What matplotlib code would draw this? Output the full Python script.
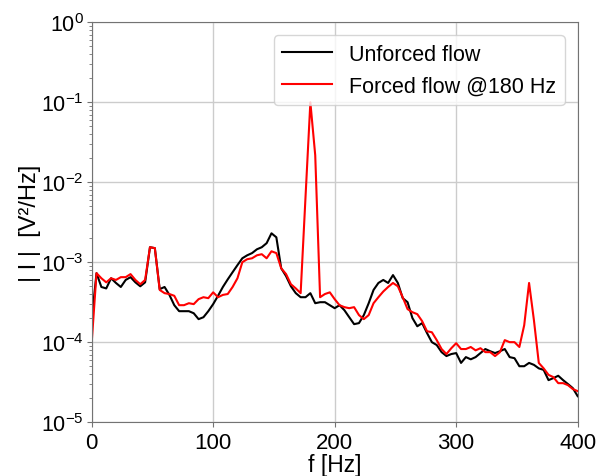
import numpy as np
import matplotlib
matplotlib.use("Agg")
import matplotlib.pyplot as plt

plt.rcParams['font.family'] = ['Liberation Sans', 'DejaVu Sans']
plt.rcParams['mathtext.fontset'] = 'custom'
plt.rcParams['mathtext.rm'] = 'Liberation Sans'
plt.rcParams['mathtext.it'] = 'Liberation Sans:italic'
plt.rcParams['mathtext.bf'] = 'Liberation Sans:bold'

# frequency bins (4 Hz spacing)
freq = np.arange(0, 404, 4)

# PSD, unforced flow
unforced = [
    1.88e-4, 7.3e-4, 4.9e-4, 4.7e-4, 6.3e-4, 5.5e-4, 4.9e-4, 6.0e-4, 6.5e-4, 5.6e-4,
    5.0e-4, 5.6e-4, 1.54e-3, 1.50e-3, 4.6e-4, 4.9e-4, 3.9e-4, 2.9e-4, 2.44e-4, 2.44e-4,
    2.44e-4, 2.3e-4, 1.94e-4, 2.05e-4, 2.44e-4, 2.99e-4, 3.8e-4, 4.9e-4, 6.1e-4, 7.5e-4,
    9.2e-4, 1.12e-3, 1.22e-3, 1.30e-3, 1.45e-3, 1.54e-3, 1.73e-3, 2.30e-3, 2.05e-3, 8.4e-4,
    6.7e-4, 5.0e-4, 4.1e-4, 3.65e-4, 3.65e-4, 4.1e-4, 3.07e-4, 3.16e-4, 3.16e-4, 2.9e-4,
    2.66e-4, 2.9e-4, 2.51e-4, 2.05e-4, 1.68e-4, 1.73e-4, 2.18e-4, 3.07e-4, 4.5e-4, 5.5e-4,
    6.0e-4, 5.5e-4, 6.9e-4, 5.5e-4, 3.55e-4, 3.16e-4, 2.0e-4, 1.58e-4, 1.73e-4, 1.30e-4,
    1.0e-4, 9.2e-5, 7.5e-5, 6.7e-5, 7.1e-5, 7.3e-5, 5.5e-5, 6.5e-5, 6.1e-5, 6.5e-5,
    7.3e-5, 8.2e-5, 7.7e-5, 7.3e-5, 7.7e-5, 8.2e-5, 6.5e-5, 6.3e-5, 5.0e-5, 5.0e-5,
    5.5e-5, 5.2e-5, 4.7e-5, 4.5e-5, 3.35e-5, 3.55e-5, 3.8e-5, 3.35e-5, 2.99e-5, 2.66e-5,
    2.11e-5,
]

# PSD, forced flow @180 Hz
forced = [
    9.7e-5, 7.3e-4, 6.3e-4, 5.6e-4, 6.3e-4, 6.0e-4, 6.5e-4, 6.5e-4, 7.1e-4, 6.0e-4,
    5.3e-4, 6.0e-4, 1.54e-3, 1.50e-3, 4.5e-4, 4.1e-4, 4.0e-4, 3.8e-4, 2.9e-4, 2.9e-4,
    3.07e-4, 2.99e-4, 3.45e-4, 3.65e-4, 3.55e-4, 4.2e-4, 3.65e-4, 3.9e-4, 4.0e-4, 4.9e-4,
    6.3e-4, 1.0e-3, 1.09e-3, 1.12e-3, 1.22e-3, 1.26e-3, 1.12e-3, 1.37e-3, 1.30e-3, 8.4e-4,
    7.1e-4, 5.3e-4, 4.7e-4, 4.1e-4, 6.5e-3, 0.1, 0.0218, 3.65e-4, 4.0e-4, 4.2e-4,
    3.45e-4, 2.9e-4, 2.74e-4, 2.66e-4, 2.74e-4, 2.18e-4, 1.94e-4, 2.18e-4, 3.07e-4, 3.65e-4,
    4.3e-4, 4.9e-4, 5.5e-4, 5.0e-4, 3.65e-4, 2.59e-4, 2.37e-4, 2.24e-4, 1.83e-4, 1.37e-4,
    1.33e-4, 1.06e-4, 8.2e-5, 7.1e-5, 8.4e-5, 9.7e-5, 8.2e-5, 8.2e-5, 8.7e-5, 7.9e-5,
    8.4e-5, 7.5e-5, 7.5e-5, 6.7e-5, 7.5e-5, 1.06e-4, 1.0e-4, 1.0e-4, 8.7e-5, 1.63e-4,
    5.5e-4, 1.88e-4, 5.5e-5, 4.7e-5, 3.9e-5, 3.65e-5, 3.07e-5, 3.07e-5, 2.9e-5, 2.59e-5,
    2.44e-5,
]

fig = plt.figure(figsize=(6.03, 4.77), dpi=100)
ax = fig.add_axes([0.152, 0.113, 0.806, 0.838])

ax.plot(freq, unforced, color='black', lw=1.5, label='Unforced flow')
ax.plot(freq, forced, color='red', lw=1.5, label='Forced flow @180 Hz')

ax.set_yscale('log')
ax.set_xlim(0, 400)
ax.set_ylim(1e-5, 1)
ax.set_xticks([0, 100, 200, 300, 400])
ax.grid(True, which='major', color='0.8', lw=1.0)

for s in ax.spines.values():
    s.set_color('0.45')
ax.tick_params(which='both', colors='0.45', labelcolor='black', labelsize=16)
ax.tick_params(axis='y', labelsize=15.5, pad=2)

ax.set_xlabel('f [Hz]', fontsize=16.5, labelpad=0)
ax.set_ylabel('| I |  [V²/Hz]', fontsize=17, labelpad=1)
ax.yaxis.set_label_coords(-0.105, 0.5)

ax.legend(loc='upper right', fontsize=15.5, handlelength=2.3, borderaxespad=0.6)

fig.savefig('out.png', dpi=100)
